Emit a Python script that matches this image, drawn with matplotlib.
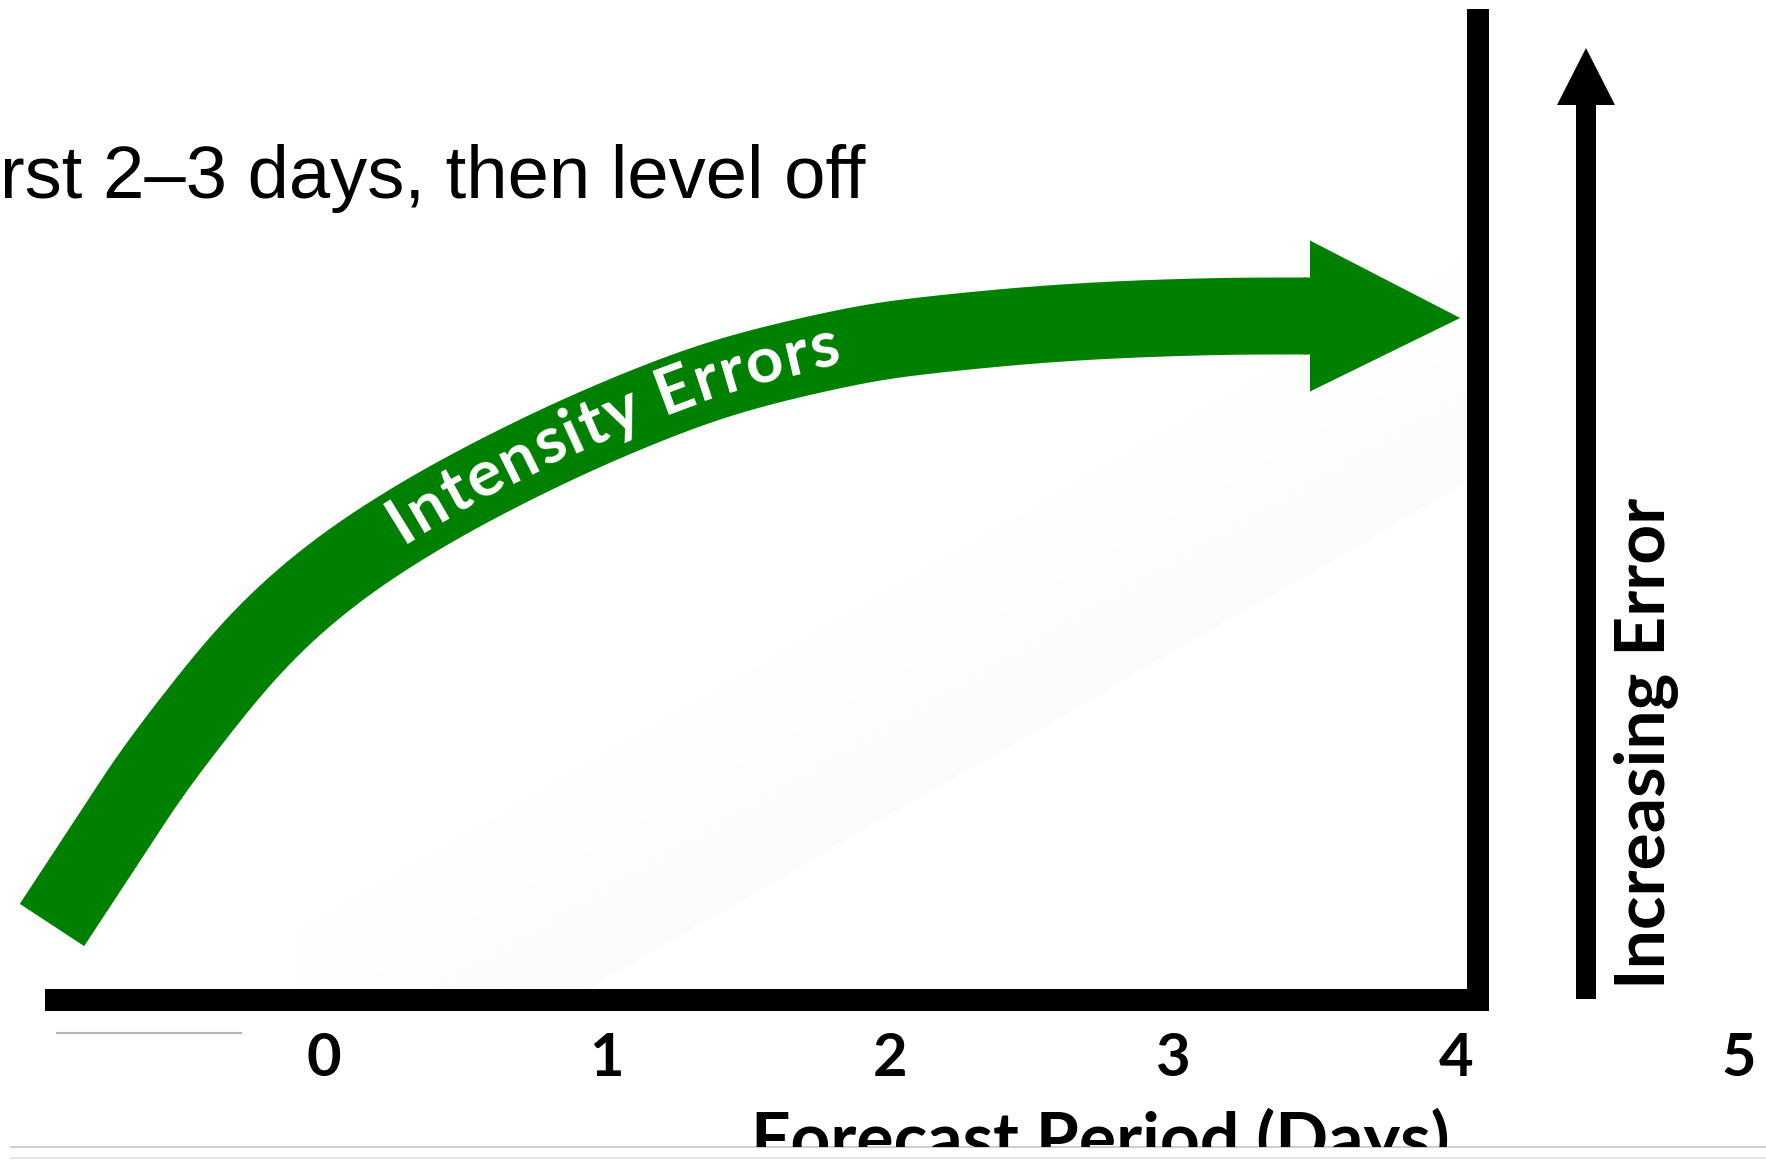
import numpy as np
import matplotlib
matplotlib.use("Agg")
import matplotlib.pyplot as plt
from matplotlib.patches import Polygon, Rectangle
from matplotlib.font_manager import FontProperties
from matplotlib.transforms import Bbox

# ---------------- data ----------------
day_ticks = [0, 1, 2, 3, 4, 5]
tick_labels = ["0", "1", "2", "3", "4", "5"]
# centre line of the "Intensity Errors" arrow: forecast day vs. (relative) error
curve_days = [-0.9615, -0.7529, -0.6151, -0.4560, -0.3005, -0.1414, 0.0495, 0.2545,
              0.4913, 0.8059, 1.1205, 1.4351, 1.8593, 2.0572, 2.5981, 3.1389, 3.4853]
curve_error = [0.75, 1.65, 2.25, 2.84, 3.39, 3.86, 4.31, 4.70,
               5.09, 5.54, 5.93, 6.26, 6.54, 6.63, 6.78, 6.84, 6.84]
arrow_tip_day, arrow_tip_error = 4.016, 6.82
title_text = "rst 2\u20133 days, then level off"
curve_label = "Intensity Errors"
ylabel_text = "Increasing Error"
xlabel_text = "Forecast Period (Days)"

# ---------------- layout / style ----------------
W, H = 1766, 1170
PX0, PXD = 324.0, 282.9          # pixel of day 0, pixels per day
def dx(px):
    return (px - PX0) / PXD
def ey(py):
    return (1000.0 - py) / 100.0
PT = 0.72                         # points per pixel at dpi 100
GREEN = "#008000"
SHAFT_W = 77                      # px

fig = plt.figure(figsize=(W / 100, H / 100), dpi=100)
ax = fig.add_axes([0, 0, 1, 1])
ax.set_xlim(dx(0), dx(W))
ax.set_ylim(ey(H), ey(0))
ax.axis("off")

bold = FontProperties(family="Lato", weight="bold", size=47)

# faint background shading (lower-right wedge)
clip_rect = Rectangle((dx(45), ey(989)), dx(1467) - dx(45), ey(9) - ey(989),
                      transform=ax.transData, visible=False)
ax.add_patch(clip_rect)
def ly(x, d):
    return 991 + (481 - 991) * (x - 583) / (1469 - 583) - d
for k, a in enumerate([0.014, 0.010, 0.007, 0.0045, 0.0025]):
    d1, d2 = k * 45, (k + 1) * 45
    xs = [dx(300), dx(1600), dx(1600), dx(300)]
    ys = [ey(ly(300, d1)), ey(ly(1600, d1)), ey(ly(1600, d2)), ey(ly(300, d2))]
    p = Polygon(np.column_stack([xs, ys]), closed=True, facecolor="black",
                alpha=a, edgecolor="none", zorder=0)
    ax.add_patch(p)
    p.set_clip_path(clip_rect)

# axes (L shape)
ax.plot([dx(45), dx(1478), dx(1478)], [ey(1000), ey(1000), ey(9)],
        color="black", lw=22 * PT, solid_capstyle="butt",
        solid_joinstyle="miter", zorder=2)

# black "increasing error" arrow
xc = dx(1586)
ax.plot([xc, xc], [ey(999), ey(104)], color="black", lw=20 * PT,
        solid_capstyle="butt", zorder=2)
ax.add_patch(Polygon([(dx(1557), ey(105)), (dx(1615), ey(105)), (xc, ey(48))],
                     closed=True, facecolor="black", edgecolor="none", zorder=2))

# green curved arrow: smoothed path through the read points
def chaikin(pts, iterations):
    for _ in range(iterations):
        q = 0.75 * pts[:-1] + 0.25 * pts[1:]
        r = 0.25 * pts[:-1] + 0.75 * pts[1:]
        new = np.empty((2 * len(q), 2))
        new[0::2] = q
        new[1::2] = r
        pts = np.vstack([pts[0], new, pts[-1]])
    return pts

def resample(pts, step=1.0):
    seg = np.linalg.norm(np.diff(pts, axis=0), axis=1)
    s = np.concatenate([[0], np.cumsum(seg)])
    ss = np.arange(0, s[-1], step)
    if s[-1] - ss[-1] > 0.5:
        ss = np.append(ss, s[-1])
    else:
        ss[-1] = s[-1]
    return np.column_stack([np.interp(ss, s, pts[:, 0]), np.interp(ss, s, pts[:, 1])])

def gauss_smooth(pts, sigma=22.0):
    pad = int(4 * sigma)
    d0 = pts[1] - pts[0]
    d1 = pts[-1] - pts[-2]
    k = np.arange(pad, 0, -1)[:, None]
    head = pts[0] - k * d0
    tail = pts[-1] + k[::-1] * d1
    ext = np.vstack([head, pts, tail])
    xk = np.arange(-pad, pad + 1)
    w = np.exp(-0.5 * (xk / sigma) ** 2)
    w /= w.sum()
    sx = np.convolve(ext[:, 0], w, mode="same")
    sy = np.convolve(ext[:, 1], w, mode="same")
    return np.column_stack([sx, sy])[pad:-pad]

P = np.column_stack([curve_days, curve_error])
disp_pts = ax.transData.transform(chaikin(P, 5))
disp = gauss_smooth(resample(disp_pts, 1.0), 22.0)
inv = ax.transData.inverted()
smooth = inv.transform(disp)
ax.plot(smooth[:, 0], smooth[:, 1], color=GREEN, lw=SHAFT_W * PT,
        solid_capstyle="butt", solid_joinstyle="round", zorder=3)

# arrow head (with a short overlap into the shaft so no seam shows)
xb, eb = curve_days[-1], curve_error[-1]
head_half = (ey(240) - ey(391)) / 2
shaft_half = SHAFT_W / 2 / 100.0
ovl = 6.0 / PXD
ax.add_patch(Polygon([(xb - ovl, eb + shaft_half), (xb, eb + shaft_half),
                      (xb, eb + head_half), (arrow_tip_day, arrow_tip_error),
                      (xb, eb - head_half), (xb, eb - shaft_half),
                      (xb - ovl, eb - shaft_half)],
                     closed=True, facecolor=GREEN, edgecolor="none", zorder=3))

# text along the curve
tang = np.gradient(disp, axis=0)
tang /= np.linalg.norm(tang, axis=1)[:, None]
normal = np.column_stack([tang[:, 1], -tang[:, 0]])
offset = 15.0
base = disp + offset * normal
arc = np.concatenate([[0], np.cumsum(np.linalg.norm(np.diff(base, axis=0), axis=1))])
ang = np.degrees(np.arctan2(tang[:, 1], tang[:, 0]))
target = np.array([403.0, H - 544.0])
i0 = np.argmin(np.linalg.norm(base - target, axis=1))
s0 = arc[i0]

renderer = fig.canvas.get_renderer()
def tw(s):
    return renderer.get_text_width_height_descent(s, bold, ismath=False)[0]
for i, ch in enumerate(curve_label):
    if ch == " ":
        continue
    right = tw(curve_label[:i + 1])
    left = right - tw(ch)
    s = s0 + (left + right) / 2 + i * 2.0
    bx = np.interp(s, arc, base[:, 0])
    by = np.interp(s, arc, base[:, 1])
    a = np.interp(s, arc, ang)
    x, y = inv.transform((bx, by))
    ax.text(x, y, ch, fontproperties=bold, color="white", rotation=a,
            rotation_mode="anchor", ha="center", va="baseline", zorder=4)

# title fragment
ax.text(dx(0), ey(198), title_text, family="Liberation Sans", fontsize=53.5,
        color="black", ha="left", va="baseline", zorder=5)

# tick labels
for d, lab in zip(day_ticks, tick_labels):
    ax.text(d, ey(1076), lab, family="Lato", weight="bold", fontsize=43,
            color="black", ha="center", va="baseline", zorder=5)

# y label
ax.text(dx(1665), ey(743), ylabel_text, family="Lato", weight="bold",
        fontsize=50, rotation=90, rotation_mode="anchor", ha="center",
        va="baseline", color="black", zorder=5)

# x label (cut off at the bottom as in the slide)
xl = ax.text(dx(1100), ey(1162), xlabel_text, family="Lato", weight="bold",
             fontsize=50, ha="center", va="baseline", color="black", zorder=5)
xl.set_clip_box(Bbox.from_extents(0, H - 1147, W, H))
xl.set_clip_on(True)

# slide remnants near the bottom
ax.plot([dx(57), dx(241)], [ey(1033), ey(1033)], color="#b4b4b4", lw=1.5, zorder=1)
ax.plot([dx(11), dx(W)], [ey(1147), ey(1147)], color="#cfcfcf", lw=1.5, zorder=1)
ax.plot([dx(11), dx(W)], [ey(1158), ey(1158)], color="#e4e4e4", lw=1.5, zorder=1)

fig.savefig("out.png", dpi=100, facecolor="white")
